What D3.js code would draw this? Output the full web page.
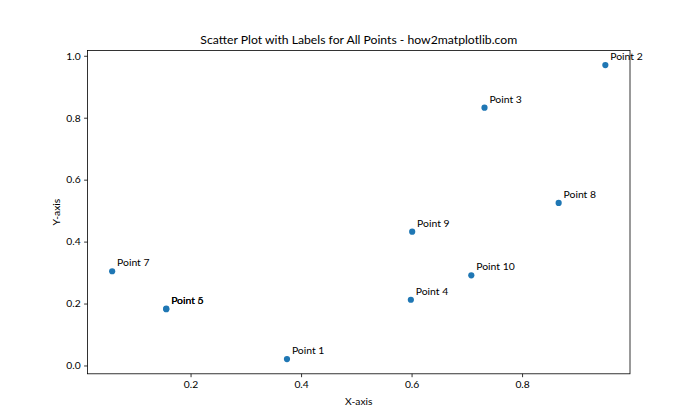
<!DOCTYPE html>
<html>
<head>
<meta charset="utf-8">
<script src="https://cdn.jsdelivr.net/npm/d3@7"></script>
<style>
  body { margin: 0; background: #fff; }
  text { font-family: Lato, "Open Sans", sans-serif; fill: #000; }
</style>
</head>
<body>
<div id="chart"></div>
<script>
// scatter points
var labels = ['Point 1','Point 2','Point 3','Point 4','Point 5','Point 6','Point 7','Point 8','Point 9','Point 10'];
var xs = [0.3745, 0.9507, 0.7320, 0.5987, 0.1560, 0.1560, 0.0581, 0.8662, 0.6011, 0.7081];
var ys = [0.0206, 0.9699, 0.8324, 0.2123, 0.1818, 0.1834, 0.3042, 0.5248, 0.4320, 0.2912];
var xTicks = [0.2, 0.4, 0.6, 0.8];
var yTicks = [0.0, 0.2, 0.4, 0.6, 0.8, 1.0];

var width = 700, height = 420;
var margin = {left: 87.5, right: 70, top: 50.4, bottom: 46.2};
var w = width - margin.left - margin.right;
var h = height - margin.top - margin.bottom;

var points = labels.map(function(d, i){ return {label: d, x: xs[i], y: ys[i]}; });

// matplotlib style 5% padding
function padded(vals){
    var lo = d3.min(vals), hi = d3.max(vals), p = (hi - lo) * 0.05;
    return [lo - p, hi + p];
}

var x = d3.scaleLinear().domain(padded(xs)).range([0, w]);
var y = d3.scaleLinear().domain(padded(ys)).range([h, 0]);

var svg = d3.select("#chart").append("svg")
    .attr("width", width)
    .attr("height", height);

var g = svg.append("g")
    .attr("transform", "translate(" + margin.left + "," + margin.top + ")");

var xAxis = g.append("g")
    .attr("transform", "translate(0," + h + ")")
    .call(d3.axisBottom(x).tickValues(xTicks).tickFormat(d3.format(".1f")).tickSize(3.4).tickPadding(3.4));
var yAxis = g.append("g")
    .call(d3.axisLeft(y).tickValues(yTicks).tickFormat(d3.format(".1f")).tickSize(3.4).tickPadding(3.4));

[xAxis, yAxis].forEach(function(a){
    a.select(".domain").remove();
    a.selectAll("line").attr("stroke", "#000").attr("stroke-width", 0.8);
    a.selectAll("text").style("font-size", "10.3px").attr("fill", "#000");
});

// frame
g.append("rect")
    .attr("width", w).attr("height", h)
    .attr("fill", "none").attr("stroke", "#000").attr("stroke-width", 0.8);

var pt = g.selectAll(".pt").data(points).enter().append("g");

pt.append("circle")
    .attr("cx", function(d){ return x(d.x); })
    .attr("cy", function(d){ return y(d.y); })
    .attr("r", 3.1)
    .attr("fill", "#1f77b4");

pt.append("text")
    .text(function(d){ return d.label; })
    .attr("x", function(d){ return x(d.x) + 4.9; })
    .attr("y", function(d){ return y(d.y) - 4.9; })
    .style("font-size", "10.4px");

svg.append("text")
    .text("Scatter Plot with Labels for All Points - how2matplotlib.com")
    .attr("x", margin.left + w / 2)
    .attr("y", margin.top - 6.5)
    .attr("text-anchor", "middle")
    .style("font-size", "12.2px");

svg.append("text")
    .text("X-axis")
    .attr("x", margin.left + w / 2)
    .attr("y", 405)
    .attr("text-anchor", "middle")
    .style("font-size", "10.3px");

svg.append("text")
    .text("Y-axis")
    .attr("transform", "translate(60," + (margin.top + h / 2) + ") rotate(-90)")
    .attr("text-anchor", "middle")
    .style("font-size", "10.3px");
</script>
</body>
</html>
